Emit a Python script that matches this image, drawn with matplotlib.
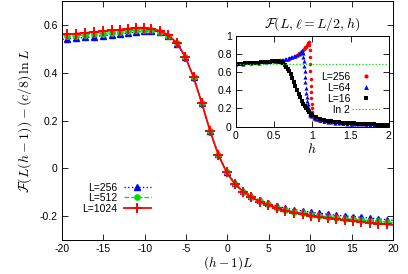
import matplotlib
matplotlib.use("Agg")
from matplotlib import pyplot as plt
from matplotlib.lines import Line2D

# main panel: scaled variable (h-1)L, first and last points sit just outside the axes
x_scaled = [-20.4, -19.4, -18.3, -17.2, -16.1, -15.1, -14.0, -13.0, -12.0, -11.1, -10.1,
            -9.2, -8.2, -7.2, -6.1, -5.1, -4.1, -3.1, -2.1, -1.1, -0.1,
            0.9, 1.9, 2.9, 3.9, 4.9, 6.0, 7.0, 8.1, 9.1, 10.1,
            11.1, 12.1, 13.1, 14.2, 15.2, 16.2, 17.2, 18.2, 19.3, 20.3]
f_256 = [0.539, 0.542, 0.545, 0.548, 0.551, 0.555, 0.559, 0.563, 0.567, 0.570, 0.573,
         0.574, 0.570, 0.553, 0.520, 0.464, 0.381, 0.273, 0.158, 0.058, -0.015,
         -0.063, -0.094, -0.116, -0.133, -0.146, -0.158, -0.167, -0.173, -0.179, -0.184,
         -0.188, -0.192, -0.196, -0.199, -0.202, -0.205, -0.208, -0.211, -0.215, -0.218]
f_512 = [0.549, 0.552, 0.555, 0.558, 0.561, 0.564, 0.568, 0.572, 0.576, 0.579, 0.581,
         0.578, 0.571, 0.556, 0.523, 0.466, 0.382, 0.273, 0.157, 0.057, -0.016,
         -0.065, -0.097, -0.120, -0.137, -0.151, -0.164, -0.174, -0.181, -0.188, -0.194,
         -0.198, -0.203, -0.206, -0.210, -0.213, -0.216, -0.219, -0.222, -0.226, -0.229]
f_1024 = [0.558, 0.561, 0.564, 0.567, 0.570, 0.573, 0.577, 0.581, 0.585, 0.588, 0.589,
          0.585, 0.576, 0.559, 0.525, 0.467, 0.382, 0.273, 0.156, 0.056, -0.017,
          -0.066, -0.098, -0.121, -0.139, -0.153, -0.167, -0.177, -0.185, -0.192, -0.198,
          -0.203, -0.208, -0.212, -0.216, -0.220, -0.224, -0.227, -0.231, -0.235, -0.238]

# inset: F(L, l=L/2, h) against h
h_256 = [0.0, 0.1, 0.2, 0.3, 0.4, 0.5, 0.6, 0.7, 0.8,
         0.82, 0.83, 0.84, 0.85, 0.86, 0.87, 0.88, 0.89, 0.90, 0.91, 0.92, 0.93, 0.94, 0.95, 0.955,
         0.960, 0.963, 0.966, 0.969, 0.972, 0.975, 0.978, 0.981, 0.984, 0.987, 0.990, 0.993,
         0.996, 1.000,
         1.01, 1.02, 1.04, 1.07, 1.10, 1.15, 1.20, 1.30, 1.40, 1.50, 1.60, 1.70, 1.80, 1.90, 2.00]
ent_256 = [0.693, 0.695, 0.699, 0.705, 0.713, 0.722, 0.737, 0.756, 0.790,
           0.800, 0.807, 0.814, 0.822, 0.830, 0.838, 0.846, 0.855, 0.864, 0.873, 0.883, 0.895,
           0.908, 0.922, 0.930,
           0.935, 0.90, 0.84, 0.77, 0.69, 0.61, 0.53, 0.45, 0.38, 0.31, 0.25, 0.20, 0.165, 0.14,
           0.115, 0.100, 0.085, 0.072, 0.063, 0.054, 0.048, 0.040, 0.034, 0.029, 0.026, 0.023,
           0.021, 0.019, 0.018]
h_64 = [0.00, 0.10, 0.20, 0.30, 0.40, 0.50,
        0.52, 0.54, 0.56, 0.58, 0.60, 0.62, 0.64, 0.66, 0.68, 0.70, 0.72, 0.74, 0.76, 0.78,
        0.80, 0.82, 0.84, 0.86,
        0.862, 0.868, 0.874, 0.880, 0.886, 0.892, 0.898, 0.904, 0.910, 0.916, 0.922, 0.928,
        0.934, 0.940, 0.946, 0.952, 0.958, 0.964, 0.970, 0.976, 0.982, 0.988,
        1.02, 1.05, 1.10, 1.15, 1.20, 1.25, 1.30, 1.35, 1.40, 1.45, 1.50, 1.55, 1.60, 1.65,
        1.70, 1.75, 1.80, 1.85, 1.90, 1.95, 2.00]
ent_64 = [0.693, 0.695, 0.699, 0.705, 0.713, 0.718,
          0.719, 0.723, 0.726, 0.729, 0.733, 0.737, 0.741, 0.745, 0.750, 0.756, 0.762, 0.768,
          0.775, 0.782, 0.790, 0.800, 0.812, 0.825,
          0.833, 0.830, 0.81, 0.77, 0.72, 0.665, 0.61, 0.55, 0.49, 0.43, 0.375, 0.325, 0.28,
          0.245, 0.215, 0.19, 0.17, 0.155, 0.143, 0.133, 0.125, 0.118,
          0.100, 0.085, 0.070, 0.060, 0.053, 0.048, 0.043, 0.039, 0.036, 0.033, 0.031, 0.029,
          0.027, 0.025, 0.024, 0.022, 0.021, 0.020, 0.019, 0.018, 0.018]
h_16 = [0.000, 0.025, 0.050, 0.075, 0.100, 0.125, 0.150, 0.175, 0.200, 0.225, 0.250, 0.275,
        0.300, 0.325, 0.350, 0.375, 0.400, 0.425, 0.450, 0.475, 0.500, 0.525, 0.550,
        0.575, 0.60, 0.62, 0.64, 0.66, 0.68, 0.70, 0.72, 0.74, 0.76, 0.78, 0.80, 0.82, 0.84,
        0.86, 0.88, 0.90, 0.92, 0.94, 0.96, 0.98, 1.00,
        1.05, 1.10, 1.15, 1.20, 1.25, 1.30, 1.35, 1.40, 1.45, 1.50, 1.55, 1.60, 1.65, 1.70,
        1.75, 1.80, 1.85, 1.90, 1.95, 2.00]
ent_16 = [0.693, 0.693, 0.694, 0.694, 0.695, 0.696, 0.697, 0.698, 0.699, 0.700, 0.702, 0.703,
          0.705, 0.707, 0.708, 0.710, 0.712, 0.714, 0.716, 0.718, 0.719, 0.720, 0.720,
          0.717, 0.710, 0.698, 0.682, 0.662, 0.638, 0.610, 0.580, 0.540, 0.495, 0.450, 0.405,
          0.362, 0.322, 0.286, 0.253, 0.225, 0.200, 0.178, 0.158, 0.141, 0.126,
          0.104, 0.086, 0.075, 0.066, 0.059, 0.053, 0.049, 0.045, 0.041, 0.038, 0.035, 0.032,
          0.030, 0.028, 0.026, 0.025, 0.023, 0.022, 0.021, 0.020]
LN2 = 0.6931

main_ticks_x = [-20, -15, -10, -5, 0, 5, 10, 15, 20]
main_ticks_y = [-0.2, 0, 0.2, 0.4, 0.6]
inset_ticks_x = [0, 0.5, 1, 1.5, 2]
inset_ticks_y = [0, 0.2, 0.4, 0.6, 0.8, 1]

plt.rcParams['font.family'] = ['Liberation Sans', 'DejaVu Sans']
plt.rcParams['mathtext.fontset'] = 'cm'
plt.rcParams['font.size'] = 7.5

BLUE, GREEN, RED = '#0000ff', '#00dd00', '#ff0000'


def _style_axes(ax):
    ax.tick_params(direction='in', top=True, right=True, length=4, width=0.6, pad=3,
                   labelsize=7.5)
    for sp in ax.spines.values():
        sp.set_linewidth(0.7)


def _fmt(v):
    return '0' if v == 0 else ('%g' % v)


fig = plt.figure(figsize=(4.08, 2.74), dpi=100)
ax = fig.add_axes([0.152, 0.124, 0.811, 0.872])

inner = slice(1, -1)
ax.plot(x_scaled, f_256, ls=':', lw=1.0, color=BLUE, marker='^', ms=4.6,
        markevery=inner, label='L=256')
ax.plot(x_scaled, f_512, ls='--', lw=0.9, color=GREEN, marker='o', ms=3.8,
        markevery=inner, label='L=512')
ax.plot(x_scaled, f_1024, ls='-', lw=1.3, color=RED, marker='+', ms=7, mew=1.4,
        markevery=inner, label='L=1024')

ax.set_xlim(-20, 20)
ax.set_ylim(-0.3, 0.7)
ax.set_xticks(main_ticks_x)
ax.set_xticklabels([_fmt(v) for v in main_ticks_x])
ax.set_yticks(main_ticks_y)
ax.set_yticklabels([_fmt(v) for v in main_ticks_y])
_style_axes(ax)
ax.set_xlabel(r'$(h-1)L$', fontsize=9.5, labelpad=0)
ax.set_ylabel(r'$\mathcal{F}(L(h-1))-(c/8)\,\ln L$', fontsize=10, labelpad=4)
ax.legend(loc='lower left', bbox_to_anchor=(0.04, 0.08), frameon=False, markerfirst=False,
          handlelength=2.6, handletextpad=0.6, labelspacing=0.05, borderpad=0.2,
          fontsize=7.5)

# inset
ins = fig.add_axes([0.578, 0.538, 0.375, 0.331])
ins.plot(h_256, ent_256, ls='none', marker='o', ms=2.5, mew=0, color=RED)
ins.plot(h_64, ent_64, ls='none', marker='^', ms=3.0, mew=0, color=BLUE)
ins.plot(h_16, ent_16, ls='none', marker='s', ms=2.4, mew=0, color='black')
ins.axhline(LN2, ls=':', lw=0.9, color=GREEN)
ins.set_xlim(0, 2)
ins.set_ylim(0, 1)
ins.set_xticks(inset_ticks_x)
ins.set_xticklabels([_fmt(v) for v in inset_ticks_x])
ins.set_yticks(inset_ticks_y)
ins.set_yticklabels([_fmt(v) for v in inset_ticks_y])
_style_axes(ins)
ins.set_xlabel(r'$h$', fontsize=10, labelpad=1)
ins.set_title(r'$\mathcal{F}(L,\ell=L/2,h)$', fontsize=10, pad=6)

handles = [
    Line2D([], [], ls='none', marker='o', ms=3, mew=0, color=RED),
    Line2D([], [], ls='none', marker='^', ms=3.5, mew=0, color=BLUE),
    Line2D([], [], ls='none', marker='s', ms=3, mew=0, color='black'),
    Line2D([], [], ls=':', lw=0.9, color=GREEN),
]
ins.legend(handles, ['L=256', 'L=64', 'L=16', 'ln 2'], loc='lower right',
           bbox_to_anchor=(0.98, 0.06), frameon=False, markerfirst=False,
           handlelength=2.6, handletextpad=0.2, labelspacing=0.1, borderpad=0.1,
           fontsize=7.5)

fig.savefig('out.png', dpi=100)
